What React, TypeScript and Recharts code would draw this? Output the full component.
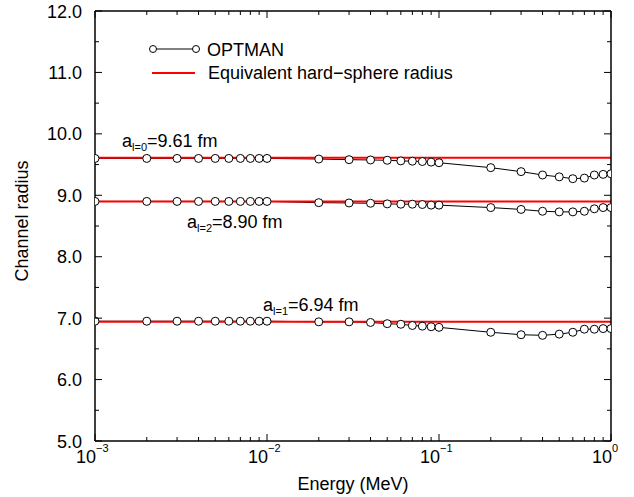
import { LineChart, Line, XAxis, YAxis } from 'recharts';

// energies in MeV
const energies = [
  0.001, 0.002, 0.003, 0.004, 0.005, 0.006, 0.007, 0.008, 0.009, 0.01,
  0.02, 0.03, 0.04, 0.05, 0.06, 0.07, 0.08, 0.09, 0.1,
  0.2, 0.3, 0.4, 0.5, 0.6, 0.7, 0.8, 0.9, 1.0,
];

// OPTMAN channel radii
const radiusL0 = [
  9.60, 9.60, 9.60, 9.60, 9.60, 9.60, 9.60, 9.60, 9.60, 9.60,
  9.59, 9.58, 9.575, 9.57, 9.56, 9.555, 9.55, 9.54, 9.53,
  9.45, 9.385, 9.33, 9.30, 9.27, 9.28, 9.33, 9.34, 9.35,
];
const radiusL2 = [
  8.90, 8.90, 8.90, 8.90, 8.90, 8.90, 8.90, 8.90, 8.90, 8.90,
  8.88, 8.875, 8.87, 8.86, 8.855, 8.855, 8.85, 8.84, 8.84,
  8.80, 8.77, 8.74, 8.73, 8.73, 8.74, 8.78, 8.80, 8.80,
];
const radiusL1 = [
  6.95, 6.95, 6.95, 6.95, 6.95, 6.95, 6.95, 6.95, 6.95, 6.95,
  6.94, 6.94, 6.93, 6.91, 6.90, 6.88, 6.87, 6.86, 6.85,
  6.77, 6.73, 6.72, 6.74, 6.77, 6.82, 6.82, 6.83, 6.83,
];

// equivalent hard-sphere radii
const hardL0 = 9.61;
const hardL2 = 8.90;
const hardL1 = 6.94;

const xMajor = [0.001, 0.01, 0.1, 1];
const xMinor = [0.001, 0.01, 0.1].flatMap((d) => [2, 3, 4, 5, 6, 7, 8, 9].map((k) => +(d * k).toPrecision(3)));
const xExp: Record<string, string> = { '0.001': '\u22123', '0.01': '\u22122', '0.1': '\u22121', '1': '0' };
const yMajor = [5, 6, 7, 8, 9, 10, 11, 12];
const yMinor = [5.5, 6.5, 7.5, 8.5, 9.5, 10.5, 11.5];

const data = energies.map((e, i) => ({
  e,
  l0: radiusL0[i],
  l2: radiusL2[i],
  l1: radiusL1[i],
  h0: hardL0,
  h2: hardL2,
  h1: hardL1,
}));

const FONT = '"Liberation Sans", Arial, Helvetica, sans-serif';
const isMajorX = (v: number) => xMajor.some((m) => Math.abs(m - v) < 1e-9);
const isMajorY = (v: number) => yMajor.includes(v);

const BottomTick = ({ x, y, payload }: any) => {
  const major = isMajorX(payload.value);
  return (
    <g>
      <line x1={x} x2={x} y1={y} y2={y - (major ? 7 : 4)} stroke="#000" />
      {major && (
        <text y={y + 22} fontFamily={FONT} fill="#000">
          <tspan x={x + 1} fontSize={18} textAnchor="end">10</tspan>
          <tspan x={x + 1} dy={-11} fontSize={11}>{xExp[String(payload.value)]}</tspan>
        </text>
      )}
    </g>
  );
};

const TopTick = ({ x, y, payload }: any) => (
  <line x1={x} x2={x} y1={y} y2={y + (isMajorX(payload.value) ? 7 : 4)} stroke="#000" />
);

const LeftTick = ({ x, y, payload }: any) => {
  const major = isMajorY(payload.value);
  return (
    <g>
      <line x1={x} x2={x + (major ? 7 : 4)} y1={y} y2={y} stroke="#000" />
      {major && (
        <text x={x - 13} y={y + 6.5} textAnchor="end" fontSize={18} fontFamily={FONT} fill="#000">
          {payload.value.toFixed(1)}
        </text>
      )}
    </g>
  );
};

const RightTick = ({ x, y, payload }: any) => (
  <line x1={x} x2={x - (isMajorY(payload.value) ? 7 : 4)} y1={y} y2={y} stroke="#000" />
);

const dotStyle = { r: 4, fill: '#fff', stroke: '#000', strokeWidth: 1 };

export default function App() {
  return (
    <div style={{ position: 'absolute', left: 0, top: 0, width: 634, height: 497, background: '#fff' }}>
      <LineChart width={634} height={497} data={data} margin={{ top: 10, right: 22, left: 35, bottom: 16 }}>
        <XAxis
          xAxisId="b"
          dataKey="e"
          type="number"
          scale="log"
          domain={[0.001, 1]}
          ticks={[...xMajor, ...xMinor]}
          interval={0}
          allowDataOverflow
          height={40}
          tickSize={0}
          tickMargin={0}
          tickLine={false}
          axisLine={{ stroke: '#000', strokeWidth: 1.5 }}
          tick={<BottomTick />}
        />
        <XAxis
          xAxisId="t"
          dataKey="e"
          orientation="top"
          type="number"
          scale="log"
          domain={[0.001, 1]}
          ticks={[...xMajor, ...xMinor]}
          interval={0}
          allowDataOverflow
          height={1}
          tickSize={0}
          tickMargin={0}
          tickLine={false}
          axisLine={{ stroke: '#000', strokeWidth: 1.5 }}
          tick={<TopTick />}
        />
        <YAxis
          yAxisId="l"
          type="number"
          domain={[5, 12]}
          ticks={[...yMajor, ...yMinor]}
          interval={0}
          allowDataOverflow
          width={60}
          tickSize={0}
          tickMargin={0}
          tickLine={false}
          axisLine={{ stroke: '#000', strokeWidth: 1.5 }}
          tick={<LeftTick />}
        />
        <YAxis
          yAxisId="r"
          orientation="right"
          type="number"
          domain={[5, 12]}
          ticks={[...yMajor, ...yMinor]}
          interval={0}
          allowDataOverflow
          width={1}
          tickSize={0}
          tickMargin={0}
          tickLine={false}
          axisLine={{ stroke: '#000', strokeWidth: 1.5 }}
          tick={<RightTick />}
        />
        {(['l0', 'l2', 'l1'] as const).map((k) => (
          <Line
            key={k}
            xAxisId="b"
            yAxisId="l"
            dataKey={k}
            stroke="#000"
            strokeWidth={1}
            dot={dotStyle}
            isAnimationActive={false}
          />
        ))}
        {(['h0', 'h2', 'h1'] as const).map((k) => (
          <Line
            key={k}
            xAxisId="b"
            yAxisId="l"
            dataKey={k}
            stroke="#ff0000"
            strokeWidth={2}
            dot={false}
            isAnimationActive={false}
          />
        ))}
      </LineChart>
      <svg width={634} height={497} style={{ position: 'absolute', left: 0, top: 0, pointerEvents: 'none' }} fontFamily={FONT} fill="#000">
        {/* legend */}
        <line x1={153} x2={196} y1={49} y2={49} stroke="#000" />
        <circle cx={153} cy={49} r={3.5} fill="#fff" stroke="#000" />
        <circle cx={196} cy={49} r={3.5} fill="#fff" stroke="#000" />
        <text x={207} y={56} fontSize={18}>OPTMAN</text>
        <line x1={152} x2={195} y1={73} y2={73} stroke="#ff0000" strokeWidth={2} />
        <text x={208} y={79} fontSize={18}>Equivalent hard{'\u2212'}sphere radius</text>

        {/* annotations */}
        <text x={122} y={147} fontSize={18}>
          a<tspan fontSize={11} dy={4}>l=0</tspan><tspan dy={-4}>=9.61 fm</tspan>
        </text>
        <text x={187} y={228} fontSize={18}>
          a<tspan fontSize={11} dy={4}>l=2</tspan><tspan dy={-4}>=8.90 fm</tspan>
        </text>
        <text x={263} y={311} fontSize={18}>
          a<tspan fontSize={11} dy={4}>l=1</tspan><tspan dy={-4}>=6.94 fm</tspan>
        </text>

        {/* axis titles */}
        <text x={353} y={490} fontSize={18} textAnchor="middle">Energy (MeV)</text>
        <text x={28} y={221} fontSize={18} textAnchor="middle" transform="rotate(-90 28 221)">Channel radius</text>
      </svg>
    </div>
  );
}
